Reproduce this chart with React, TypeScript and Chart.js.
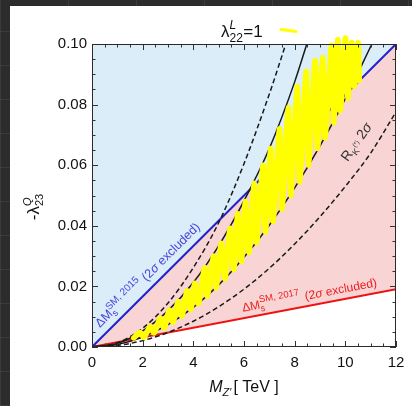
import React, { useEffect, useRef } from 'react';
import { Chart, registerables } from 'chart.js';

Chart.register(...registerables);

const FONT = '"Liberation Sans", Arial, Helvetica, sans-serif';

// ---- axis ticks ----
const massTicks = [0, 2, 4, 6, 8, 10, 12];
const couplingTicks = [0, 0.02, 0.04, 0.06, 0.08, 0.1];

// ---- Delta M_s boundaries (straight lines through origin) ----
const boundaryMass = [0, 12];
const bs2015Coupling = [0, 0.1];
const bs2017Coupling = [0, 0.0191];

// ---- R_K(*) bands ----
const rkUpper2Mass = [0, 1, 2, 3, 4, 5, 6, 7, 7.65];
const rkUpper2Coupling = [0, 0.0014, 0.0062, 0.0145, 0.0262, 0.041, 0.0605, 0.0835, 0.1];
const rkUpper1Mass = [0, 1, 2, 3, 4, 5, 6, 7, 8, 8.48];
const rkUpper1Coupling = [0, 0.0012, 0.0053, 0.012, 0.0213, 0.0334, 0.0482, 0.0655, 0.0875, 0.1];
const rkLower1Mass = [0, 1, 2, 3, 4, 5, 6, 7, 8, 9, 10, 11.05];
const rkLower1Coupling = [0, 0.0008, 0.0033, 0.0074, 0.0131, 0.0205, 0.0296, 0.0402, 0.0525, 0.0664, 0.082, 0.1];
const rkLower2Mass = [0, 1, 2, 3, 4, 5, 6, 7, 8, 9, 10, 11, 12];
const rkLower2Coupling = [0, 0.0005, 0.0021, 0.0048, 0.0085, 0.0133, 0.0191, 0.026, 0.034, 0.043, 0.053, 0.064, 0.0776];

// ---- scan points lambda^L_22 = 1 (yellow) ----
const scanMass = [1.65, 1.9, 2.05, 2.3, 2.45, 2.7, 2.85, 3.05, 3.2, 3.4, 3.55, 3.75, 3.9, 4.05, 4.2, 4.45, 4.55, 4.8, 4.9, 5.1, 5.25, 5.45, 5.6, 5.75, 5.9, 6.05, 6.2, 6.4, 6.5, 6.75, 6.85, 7.05, 7.15, 7.4, 7.5, 7.75, 7.85, 8.1, 8.2, 8.45, 8.55, 8.8, 8.9, 9.1, 9.2, 9.45, 9.55, 9.7, 9.8, 10.0, 10.1, 10.25, 10.35, 10.5, 10.55];
const scanCoupling = [0.003, 0.0048, 0.0032, 0.0068, 0.0047, 0.0095, 0.0063, 0.0122, 0.0082, 0.015, 0.0102, 0.0185, 0.0123, 0.021, 0.0143, 0.0262, 0.0168, 0.03, 0.0195, 0.0342, 0.0225, 0.0392, 0.0256, 0.044, 0.0283, 0.048, 0.0312, 0.054, 0.0345, 0.06, 0.038, 0.0655, 0.0415, 0.072, 0.0455, 0.079, 0.05, 0.086, 0.0545, 0.091, 0.06, 0.0945, 0.0655, 0.0955, 0.069, 0.0995, 0.074, 0.1015, 0.078, 0.102, 0.082, 0.1005, 0.086, 0.1005, 0.088];

const pts = (xs: number[], ys: number[]) => xs.map((x, i) => ({ x, y: ys[i] }));

type Part = { t: string; size: number; dy?: number; italic?: boolean; stack?: boolean; gap?: number };

function drawRich(
  ctx: CanvasRenderingContext2D,
  parts: Part[],
  x: number,
  y: number,
  angle: number,
  color: string,
  align: 'left' | 'center' = 'left'
) {
  ctx.save();
  ctx.translate(x, y);
  ctx.rotate(angle);
  ctx.fillStyle = color;
  ctx.textBaseline = 'alphabetic';
  ctx.textAlign = 'left';
  const items: { p: Part; start: number; font: string }[] = [];
  let cx = 0;
  let prevStart = 0;
  let prevEnd = 0;
  for (const p of parts) {
    const font = `${p.italic ? 'italic ' : ''}${p.size}px ${FONT}`;
    ctx.font = font;
    const w = ctx.measureText(p.t).width;
    const start = p.stack ? prevStart : cx;
    const end = start + w;
    items.push({ p, start, font });
    cx = p.stack ? Math.max(prevEnd, end) : end;
    cx += p.gap || 0;
    prevStart = start;
    prevEnd = end;
  }
  const off = align === 'center' ? -cx / 2 : 0;
  for (const it of items) {
    ctx.font = it.font;
    ctx.fillText(it.p.t, it.start + off, -(it.p.dy || 0));
  }
  ctx.restore();
}

const label2015: Part[] = [
  { t: 'ΔM', size: 12.5 },
  { t: 's', size: 9.5, dy: -3 },
  { t: 'SM, 2015', size: 10, dy: 6, stack: true, gap: 4 },
  { t: '(2', size: 12.5 },
  { t: 'σ', size: 12.5, italic: true },
  { t: ' excluded)', size: 12.5 },
];
const label2017: Part[] = [
  { t: 'ΔM', size: 12 },
  { t: 's', size: 9, dy: -3 },
  { t: 'SM, 2017', size: 9.5, dy: 6, stack: true, gap: 5 },
  { t: '(2', size: 12 },
  { t: 'σ', size: 12, italic: true },
  { t: ' excluded)', size: 12 },
];
const labelRK: Part[] = [
  { t: 'R', size: 14 },
  { t: 'K', size: 9, dy: -3.5 },
  { t: '(*)', size: 6.5, dy: 2, gap: 4 },
  { t: '2', size: 14 },
  { t: 'σ', size: 14, italic: true },
];
const titleParts: Part[] = [
  { t: 'λ', size: 17 },
  { t: 'L', size: 12, dy: 8, italic: true },
  { t: '22', size: 12, dy: -4.5, stack: true, gap: 0.5 },
  { t: '=1', size: 17 },
];
const xTitleParts: Part[] = [
  { t: 'M', size: 16, italic: true },
  { t: 'Z′', size: 11, dy: -4, italic: true, gap: 2 },
  { t: '[ TeV ]', size: 16 },
];
const yTitleParts: Part[] = [
  { t: '-', size: 17 },
  { t: 'λ', size: 17 },
  { t: 'Q', size: 11, dy: 8, italic: true },
  { t: '23', size: 11, dy: -4, stack: true },
];

const overlay = {
  id: 'overlay',
  afterDatasetsDraw(chart: any) {
    const { ctx, chartArea: a } = chart;
    const x = chart.scales.x;
    const y = chart.scales.y;
    ctx.save();
    // inward tick marks on all four sides
    ctx.strokeStyle = '#333';
    ctx.lineWidth = 1;
    ctx.beginPath();
    for (let i = 0; i <= 24; i++) {
      const v = i * 0.5;
      const px = Math.round(x.getPixelForValue(v)) + 0.5;
      const len = i % 4 === 0 ? 6 : 3.5;
      ctx.moveTo(px, a.bottom);
      ctx.lineTo(px, a.bottom - len);
      ctx.moveTo(px, a.top);
      ctx.lineTo(px, a.top + len);
    }
    for (let i = 0; i <= 20; i++) {
      const v = i * 0.005;
      const py = Math.round(y.getPixelForValue(v)) + 0.5;
      const len = i % 4 === 0 ? 6 : 3.5;
      ctx.moveTo(a.left, py);
      ctx.lineTo(a.left + len, py);
      ctx.moveTo(a.right, py);
      ctx.lineTo(a.right - len, py);
    }
    ctx.stroke();
    ctx.strokeStyle = '#2a2a2a';
    ctx.strokeRect(a.left + 0.5, a.top + 0.5, a.right - a.left - 1, a.bottom - a.top - 1);

    // region labels
    const blueAng = Math.atan2(
      y.getPixelForValue(bs2015Coupling[1]) - y.getPixelForValue(bs2015Coupling[0]),
      x.getPixelForValue(boundaryMass[1]) - x.getPixelForValue(boundaryMass[0])
    );
    const redAng = Math.atan2(
      y.getPixelForValue(bs2017Coupling[1]) - y.getPixelForValue(bs2017Coupling[0]),
      x.getPixelForValue(boundaryMass[1]) - x.getPixelForValue(boundaryMass[0])
    );
    drawRich(ctx, label2015, x.getPixelForValue(0.32), y.getPixelForValue(0.0063), blueAng, '#4444dd');
    drawRich(ctx, label2017, x.getPixelForValue(5.96), y.getPixelForValue(0.0116), redAng, '#f01c1c');
    drawRich(ctx, labelRK, x.getPixelForValue(10.1), y.getPixelForValue(0.061), (-55 * Math.PI) / 180, '#333');

    // title with legend mark
    drawRich(ctx, titleParts, 221, 37, 0, '#111');
    ctx.strokeStyle = '#ffff00';
    ctx.lineWidth = 3;
    ctx.lineCap = 'round';
    ctx.beginPath();
    ctx.moveTo(281, 29.5);
    ctx.lineTo(296, 31.5);
    ctx.stroke();

    // axis titles
    drawRich(ctx, xTitleParts, (a.left + a.right) / 2, 391.5, 0, '#111', 'center');
    drawRich(ctx, yTitleParts, 39, 207, -Math.PI / 2, '#111', 'center');
    ctx.restore();
  },
};

export default function App() {
  const ref = useRef<HTMLCanvasElement>(null);
  useEffect(() => {
    const canvas = ref.current;
    if (!canvas) return;
    const line = (data: any, extra: any) => ({
      data,
      pointRadius: 0,
      pointHoverRadius: 0,
      fill: false,
      ...extra,
    });
    const chart = new Chart(canvas, {
      type: 'line',
      data: {
        datasets: [
          // 0: scan points (yellow)
          line(pts(scanMass, scanCoupling), {
            borderColor: '#ffff00',
            borderWidth: 5.5,
            tension: 0.35,
            borderJoinStyle: 'round',
            borderCapStyle: 'round',
            clip: false,
            order: 0,
          }),
          // 1-4: R_K(*) curves
          line(pts(rkUpper2Mass, rkUpper2Coupling), {
            borderColor: '#1a1a1a', borderWidth: 1.5, borderDash: [5, 3], cubicInterpolationMode: 'monotone', order: 1,
          }),
          line(pts(rkUpper1Mass, rkUpper1Coupling), {
            borderColor: '#1a1a1a', borderWidth: 1.5, cubicInterpolationMode: 'monotone', order: 1,
          }),
          line(pts(rkLower1Mass, rkLower1Coupling), {
            borderColor: '#1a1a1a', borderWidth: 1.5, cubicInterpolationMode: 'monotone', order: 1,
          }),
          line(pts(rkLower2Mass, rkLower2Coupling), {
            borderColor: '#1a1a1a', borderWidth: 1.5, borderDash: [5, 3], cubicInterpolationMode: 'monotone', order: 1,
          }),
          // 5: Delta M_s 2015 (blue), fill above
          line(pts(boundaryMass, bs2015Coupling), {
            borderColor: '#2222cc', borderWidth: 2, fill: 'end', backgroundColor: '#dbedf9', order: 3,
          }),
          // 6: Delta M_s 2017 (red), pink fill up to the blue line
          line(pts(boundaryMass, bs2017Coupling), {
            borderColor: '#ee1111', borderWidth: 2, fill: 5, backgroundColor: '#f8d4d4', order: 4,
          }),
        ],
      },
      options: {
        responsive: false,
        devicePixelRatio: 1,
        animation: false,
        events: [],
        layout: { padding: { left: 0, top: 44, right: 16, bottom: 0 } },
        plugins: { legend: { display: false }, tooltip: { enabled: false } },
        scales: {
          x: {
            type: 'linear',
            min: massTicks[0],
            max: massTicks[massTicks.length - 1],
            afterFit: (s: any) => { s.height = 59; },
            afterBuildTicks: (s: any) => { s.ticks = massTicks.map((v) => ({ value: v })); },
            grid: { display: false, drawTicks: false },
            border: { display: false },
            ticks: {
              padding: 7,
              color: '#111',
              font: { family: FONT, size: 15 },
              callback: (v: any) => String(v),
              maxRotation: 0,
            },
          },
          y: {
            type: 'linear',
            min: couplingTicks[0],
            max: couplingTicks[couplingTicks.length - 1],
            afterFit: (s: any) => { s.width = 92; },
            afterBuildTicks: (s: any) => { s.ticks = couplingTicks.map((v) => ({ value: v })); },
            grid: { display: false, drawTicks: false },
            border: { display: false },
            ticks: {
              padding: 5,
              color: '#111',
              font: { family: FONT, size: 15 },
              callback: (v: any) => Number(v).toFixed(2),
            },
          },
        },
      },
      plugins: [overlay],
    } as any);
    return () => chart.destroy();
  }, []);

  return (
    <div
      style={{
        position: 'fixed',
        inset: 0,
        background:
          'repeating-linear-gradient(0deg, rgba(255,255,255,0.07) 0 1px, transparent 1px 34px), repeating-linear-gradient(90deg, rgba(255,255,255,0.07) 0 1px, transparent 1px 68px), #2c2c2c',
      }}
    >
      <div style={{ position: 'absolute', left: 10, top: 6, right: 0, bottom: 0, background: '#ffffff' }} />
      <canvas
        ref={ref}
        width={412}
        height={406}
        style={{ position: 'absolute', left: 0, top: 0, width: 412, height: 406 }}
      />
    </div>
  );
}
